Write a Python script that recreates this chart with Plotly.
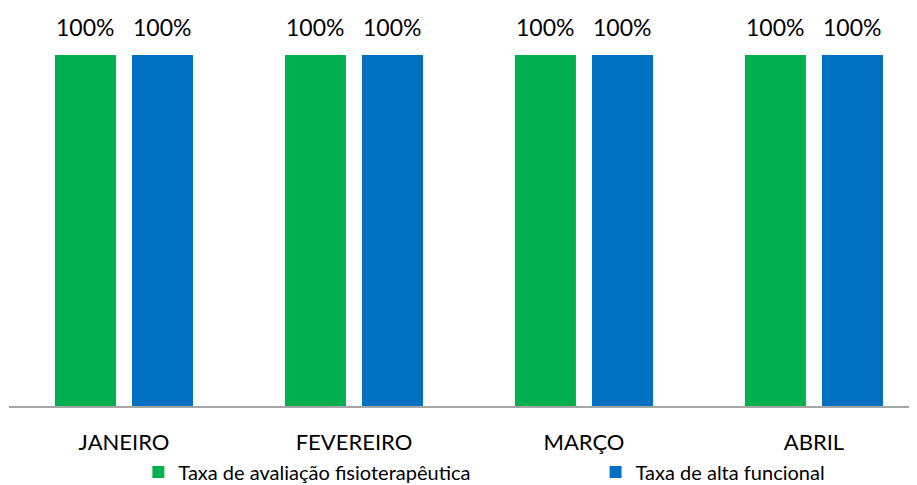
import plotly.graph_objects as go

months = ['JANEIRO', 'FEVEREIRO', 'MARÇO', 'ABRIL']
taxa_avaliacao = [1.0, 1.0, 1.0, 1.0]
taxa_alta = [1.0, 1.0, 1.0, 1.0]
series_names = ['Taxa de avaliação fisioterapêutica', 'Taxa de alta funcional']

font = 'Lato, Liberation Sans, sans-serif'
# the page body has an 8px margin, so the figure is a bit smaller
W, H = 909, 477
series = [
    (series_names[0], taxa_avaliacao, '#00B050', -38.5, 'legend', 0.1434),
    (series_names[1], taxa_alta, '#0070C0', 38.5, 'legend2', 0.6464),
]

fig = go.Figure()
for name, values, color, shift, leg, leg_x in series:
    fig.add_trace(go.Bar(
        x=months,
        y=values,
        name=name,
        legend=leg,
        marker=dict(color=color, line=dict(width=0)),
    ))
    # data labels above the bars
    for month, v in zip(months, values):
        fig.add_annotation(
            x=month, y=v, text='{:.0%}'.format(v),
            xshift=shift, yshift=28, showarrow=False,
            font=dict(size=23, color='#000000', family=font),
        )
    fig.update_layout({leg: dict(
        orientation='h',
        xref='container', x=leg_x, xanchor='left',
        yref='container', y=13 / H, yanchor='middle',
        font=dict(size=20, family=font),
        bgcolor='rgba(0,0,0,0)',
    )})

fig.update_layout(
    width=W,
    height=H,
    barmode='group',
    bargap=0.33,
    bargroupgap=0.208,
    plot_bgcolor='white',
    paper_bgcolor='white',
    margin=dict(l=1, r=0, t=47, b=78.5, autoexpand=False),
    font=dict(family=font, color='#000000'),
    showlegend=True,
)
# the last category runs a little past the right edge in the original
fig.update_xaxes(
    range=[-0.5, 3.448],
    showline=True, linecolor='#A6A6A6', linewidth=1.5,
    ticks='', tickfont=dict(size=22, family=font),
    ticklabelstandoff=16,
)
fig.update_yaxes(
    range=[0, 1.0], showgrid=False, showticklabels=False,
    zeroline=False, showline=False,
)

fig.write_html("out.html")
